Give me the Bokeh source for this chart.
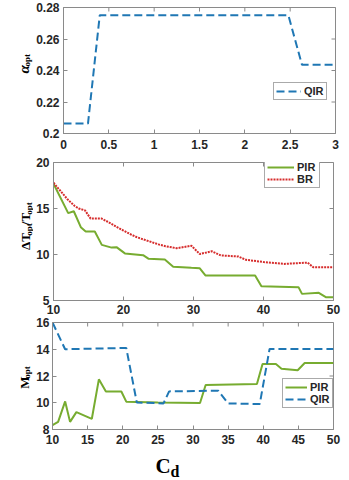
import math
from bokeh.plotting import figure
from bokeh.layouts import column, row
from bokeh.models import Range1d, FixedTicker, Legend, LegendItem
from bokeh.core.properties import value
from bokeh.embed import file_html
from bokeh.resources import INLINE

# ---------------- data ----------------
# Panel 1: alpha_opt (QIR)
alpha_x = [0, 0.27, 0.40, 2.48, 2.63, 3.0]
alpha_qir = [0.2063, 0.2063, 0.2751, 0.2751, 0.2437, 0.2437]
alpha_xticks = [0, 0.5, 1, 1.5, 2, 2.5, 3]
alpha_yticks = [0.2, 0.22, 0.24, 0.26, 0.28]

# Panel 2: dT_opt/T_opt vs C_d
dt_pir_x = [10, 12.1, 12.9, 13.9, 14.6, 15.9, 16.9, 18.3, 19.0, 20.2, 22.8, 23.6, 25.9,
            27.1, 29.7, 30.9, 31.7, 38.8, 39.7, 45.0, 45.5, 47.9, 48.9, 50]
dt_pir_y = [17.7, 14.5, 14.7, 12.97, 12.5, 12.5, 11.05, 10.75, 10.8, 10.12, 9.93, 9.53, 9.46,
            8.68, 8.55, 8.5, 7.72, 7.72, 6.56, 6.45, 5.72, 5.83, 5.36, 5.36]
dt_br_x = [10, 11, 12, 13, 13.6, 14.5, 15.3, 16.9, 18, 19, 20, 21, 22, 23, 24, 25, 26,
           27.6, 29.7, 30.9, 32.6, 33.9, 36.4, 37.5, 40, 43, 46.3, 47.1, 50]
dt_br_y = [17.8, 16.9, 16.0, 15.3, 15.0, 14.8, 13.9, 13.9, 13.45, 13.0, 12.6, 12.2, 11.85,
           11.6, 11.35, 11.1, 10.9, 10.68, 10.95, 10.05, 10.35, 9.9, 9.78, 9.42, 9.18,
           8.98, 9.12, 8.62, 8.62]
dt_xticks = [10, 20, 30, 40, 50]
dt_yticks = [5, 10, 15, 20]

# Panel 3: M_opt vs C_d
m_pir_x = [10, 10.8, 11.8, 12.5, 13.4, 15.6, 16.6, 17.6, 19.8, 20.5, 25.0, 31.0, 31.8,
           39.1, 39.9, 41.8, 42.6, 44.9, 45.9, 50]
m_pir_y = [8.32, 8.57, 10.1, 8.57, 9.3, 8.8, 11.75, 10.84, 10.84, 10.08, 10.02, 9.98, 11.33,
           11.4, 12.9, 12.9, 12.55, 12.43, 12.97, 12.97]
m_qir_x = [10, 11.8, 20.5, 22.0, 25.8, 26.6, 33.6, 35.0, 39.5, 40.9, 50]
m_qir_y = [16.0, 14.0, 14.1, 10.02, 9.95, 10.85, 10.9, 9.95, 9.9, 14.02, 14.02]
m_xticks = [10, 15, 20, 25, 30, 35, 40, 45, 50]
m_yticks = [8, 10, 12, 14, 16]

BLUE = "#1f77b4"
GREEN = "#77ac30"
RED = "#d62c2c"
BOX = "#8a8a8a"
TXT = "#262626"

LABW = 33      # width of the y-label strip
PANW = 308     # width of each panel figure


def make_fig(height, xr, yr, xticks, yticks, bl, br, bt, bb, xstand, ystand=4):
    p = figure(width=PANW, height=height, x_range=Range1d(*xr), y_range=Range1d(*yr),
               output_backend="svg", toolbar_location=None,
               min_border_left=bl, min_border_right=br, min_border_top=bt, min_border_bottom=bb)
    p.background_fill_color = "white"
    p.border_fill_color = "white"
    p.outline_line_color = BOX
    p.outline_line_width = 1
    p.xgrid.visible = False
    p.ygrid.visible = False
    p.xaxis.ticker = FixedTicker(ticks=xticks)
    p.yaxis.ticker = FixedTicker(ticks=yticks)
    for ax in (p.xaxis[0], p.yaxis[0]):
        ax.axis_line_color = BOX
        ax.major_tick_line_color = BOX
        ax.major_tick_in = 4
        ax.major_tick_out = 0
        ax.minor_tick_in = 0
        ax.minor_tick_out = 0
        ax.major_label_text_font = "Liberation Sans"
        ax.major_label_text_font_style = "bold"
        ax.major_label_text_font_size = "12px"
        ax.major_label_text_color = TXT
    p.yaxis.major_label_standoff = ystand
    p.xaxis.major_label_standoff = xstand
    # mirrored inward ticks on the top and right edges (outer half is clipped by the frame)
    p.scatter(x=xticks, y=[yr[1]] * len(xticks), marker="dash", angle=math.pi / 2, size=8,
              line_color=BOX, line_width=1)
    p.scatter(x=[xr[1]] * len(yticks), y=yticks, marker="dash", size=8,
              line_color=BOX, line_width=1)
    return p


def make_legend(items, loc, glyph_w):
    lg = Legend(items=items, location=loc)
    lg.label_text_font = "Liberation Sans"
    lg.label_text_font_style = "bold"
    lg.label_text_font_size = "11px"
    lg.label_text_color = TXT
    lg.glyph_width = glyph_w
    lg.glyph_height = 12
    lg.label_height = 12
    lg.label_standoff = 3
    lg.padding = 2
    lg.spacing = 0
    lg.margin = 0
    lg.border_line_color = "#555555"
    lg.border_line_width = 1
    lg.background_fill_color = "white"
    lg.background_fill_alpha = 1
    return lg


def label_fig(w, h):
    f = figure(width=w, height=h, x_range=Range1d(0, w), y_range=Range1d(0, h),
               x_axis_type=None, y_axis_type=None, output_backend="svg",
               toolbar_location=None, min_border=0)
    f.outline_line_color = None
    f.background_fill_color = "white"
    f.border_fill_color = "white"
    return f


WIDTHS = {"α": 0.56, "Δ": 0.64, "T": 0.667, "/": 0.278, "M": 0.944,
          "o": 0.5, "p": 0.556, "t": 0.333}


def vlabel(f, parts, x0, y0, main_size=13, sub_size=9, sub_shift=3):
    """Rotated (bottom-to-top) label built from main text and subscript pieces."""
    y = y0
    for text, sub, style in parts:
        size = sub_size if sub else main_size
        f.text(x=[x0 + (sub_shift if sub else 0)], y=[y], text=[text], angle=math.pi / 2,
               text_align="left", text_baseline="alphabetic",
               text_font=value("Liberation Serif"), text_font_style=style,
               text_font_size=f"{size}px", text_color="black")
        y += sum(WIDTHS.get(c, 0.55) for c in text) * size


# ---------------- panel 1 ----------------
H1 = 153
p1 = make_fig(H1, (0, 3), (0.2, 0.28), alpha_xticks, alpha_yticks, 27, 6, 7, 20, 6)
r1 = p1.line(alpha_x, alpha_qir, line_color=BLUE, line_width=2, line_dash="8 4")
p1.add_layout(make_legend([LegendItem(label="QIR", renderers=[r1])], (210, 33), 25))
p1.yaxis.major_label_overrides = {0.2: "0.2"}
l1 = label_fig(LABW, H1)
vlabel(l1, [("α", False, "bold italic"), ("opt", True, "bold")], 23, 73,
       main_size=15, sub_size=9)

# ---------------- panel 2 ----------------
H2 = 164
p2 = make_fig(H2, (10, 50), (5, 20), dt_xticks, dt_yticks, 19, 8, 9, 17, 4)
r2a = p2.line(dt_pir_x, dt_pir_y, line_color=GREEN, line_width=2)
r2b = p2.line(dt_br_x, dt_br_y, line_color=RED, line_width=2, line_dash="2 1")
p2.add_layout(make_legend([LegendItem(label="PIR", renderers=[r2a]),
                           LegendItem(label="BR", renderers=[r2b])], (211, 112), 27))
l2 = label_fig(LABW, H2)
vlabel(l2, [("ΔT", False, "bold"), ("opt", True, "bold"), ("/T", False, "bold"),
            ("opt", True, "bold")], 25, 60)

# ---------------- panel 3 ----------------
H3 = 131
p3 = make_fig(H3, (10, 50), (8, 16), m_xticks, m_yticks, 16, 8, 5, 19, 5, ystand=3)
r3a = p3.line(m_pir_x, m_pir_y, line_color=GREEN, line_width=2)
r3b = p3.line(m_qir_x, m_qir_y, line_color=BLUE, line_width=2, line_dash="8 4")
p3.add_layout(make_legend([LegendItem(label="PIR", renderers=[r3a]),
                           LegendItem(label="QIR", renderers=[r3b])], (230, 21), 22))
l3 = label_fig(LABW, H3)
vlabel(l3, [("M", False, "bold"), ("opt", True, "bold")], 23.5, 50)

# ---------------- x label strip ----------------
HX = 32
lx = label_fig(LABW + PANW, HX)
lx.text(x=[155], y=[15], text=["C"], text_align="left", text_baseline="alphabetic",
        text_font=value("Liberation Serif"), text_font_style="bold",
        text_font_size="21px", text_color="black")
lx.text(x=[170], y=[9], text=["d"], text_align="left", text_baseline="alphabetic",
        text_font=value("Liberation Serif"), text_font_style="bold",
        text_font_size="16px", text_color="black")

layout = column(row(l1, p1, spacing=0), row(l2, p2, spacing=0), row(l3, p3, spacing=0),
                lx, spacing=0)
open("out.html", "w").write(file_html(layout, INLINE))
